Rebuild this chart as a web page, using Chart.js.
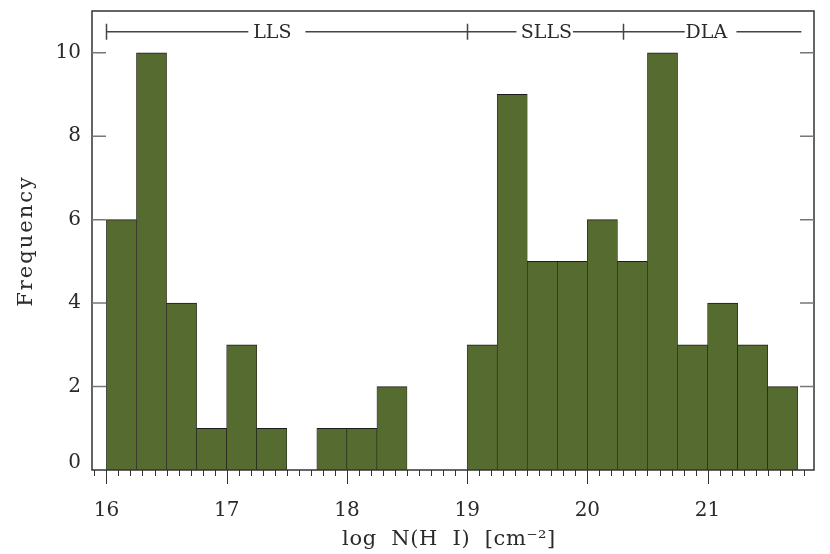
<!DOCTYPE html>
<html>
<head>
<meta charset="utf-8">
<script src="https://cdn.jsdelivr.net/npm/chart.js@4.4.1/dist/chart.umd.min.js"></script>
<style>
  html, body { margin: 0; padding: 0; background: #fff; }
  #wrap { width: 830px; height: 554px; }
</style>
</head>
<body>
<div id="wrap"><canvas id="hist"></canvas></div>
<script>
// histogram of log N(HI), bin width 0.25
const binLow = [16.0, 16.25, 16.5, 16.75, 17.0, 17.25, 17.5, 17.75, 18.0, 18.25, 18.5, 18.75,
                19.0, 19.25, 19.5, 19.75, 20.0, 20.25, 20.5, 20.75, 21.0, 21.25, 21.5];
const counts = [6, 10, 4, 1, 3, 1, 0, 1, 1, 2, 0, 0,
                3, 9, 5, 5, 6, 5, 10, 3, 4, 3, 2];
const binWidth = 0.25;
const xTickLabels = [16, 17, 18, 19, 20, 21];
const yTickLabels = [0, 2, 4, 6, 8, 10];
// class ranges on top
const classNames = ['LLS', 'SLLS', 'DLA'];
const classLabelAt = [17.38, 19.66, 20.99];
const classEdges = [16.0, 19.0, 20.3];

const FONT = '"DejaVu Serif", "Liberation Serif", serif';
const INK = '#2a2a2a';

let points = [];
for (let i = 0; i < binLow.length; i++) {
  points.push({ x: binLow[i] + binWidth / 2, y: counts[i] > 0 ? counts[i] : null });
}

const decor = {
  id: 'decor',
  afterDraw(chart) {
    const ctx = chart.ctx;
    const xs = chart.scales.x, ys = chart.scales.y;
    const a = chart.chartArea;
    ctx.save();

    // frame
    ctx.strokeStyle = '#333';
    ctx.lineWidth = 1.5;
    ctx.strokeRect(a.left, a.top, a.right - a.left, a.bottom - a.top);

    // x ticks, minor every 0.1, major at integers
    ctx.lineWidth = 1;
    ctx.strokeStyle = '#333';
    for (let k = 159; k <= 218; k++) {
      const v = k / 10;
      const px = Math.round(xs.getPixelForValue(v)) + 0.5;
      const len = (k % 10 === 0) ? 14 : 6;
      ctx.beginPath();
      ctx.moveTo(px, a.bottom);
      ctx.lineTo(px, a.bottom + len);
      ctx.stroke();
    }

    // y ticks, inward on both sides
    ctx.strokeStyle = '#777';
    ctx.lineWidth = 1.5;
    yTickLabels.forEach(v => {
      if (v === 0) return;
      const py = ys.getPixelForValue(v);
      ctx.beginPath();
      ctx.moveTo(a.left, py); ctx.lineTo(a.left + 14, py);
      ctx.moveTo(a.right, py); ctx.lineTo(a.right - 14, py);
      ctx.stroke();
    });

    // tick labels
    ctx.fillStyle = INK;
    ctx.font = '20px ' + FONT;
    ctx.textAlign = 'center';
    ctx.textBaseline = 'middle';
    xTickLabels.forEach(v => {
      ctx.fillText(String(v), xs.getPixelForValue(v), 511);
    });
    ctx.textAlign = 'right';
    yTickLabels.forEach(v => {
      let py = ys.getPixelForValue(v);
      if (v === 0) py -= 7;
      ctx.fillText(String(v), a.left - 11, py);
    });

    // axis titles
    ctx.textAlign = 'center';
    ctx.font = '21px ' + FONT;
    ctx.letterSpacing = '0.6px';
    ctx.fillText('log  N(H  I)  [cm\u207B\u00B2]', 449, 540);
    ctx.letterSpacing = '2px';
    ctx.save();
    ctx.translate(27, 241);
    ctx.rotate(-Math.PI / 2);
    ctx.fillText('Frequency', 0, 0);
    ctx.restore();
    ctx.letterSpacing = '0px';

    // class bracket along the top
    const by = ys.getPixelForValue(10.5);
    const segs = [[16.0, 17.18], [17.655, 19.41], [19.88, 20.81], [21.24, 21.78]];
    ctx.strokeStyle = '#444';
    ctx.lineWidth = 1.5;
    ctx.beginPath();
    segs.forEach(s => {
      ctx.moveTo(xs.getPixelForValue(s[0]), by);
      ctx.lineTo(xs.getPixelForValue(s[1]), by);
    });
    classEdges.forEach(v => {
      const px = Math.round(xs.getPixelForValue(v)) + 0.5;
      ctx.moveTo(px, by - 8);
      ctx.lineTo(px, by + 8);
    });
    ctx.stroke();
    ctx.fillStyle = INK;
    ctx.font = '19px ' + FONT;
    classNames.forEach((t, i) => {
      ctx.fillText(t, xs.getPixelForValue(classLabelAt[i]), by + 1);
    });

    ctx.restore();
  }
};

new Chart(document.getElementById('hist'), {
  type: 'bar',
  data: {
    datasets: [{
      data: points,
      backgroundColor: '#566b30',
      borderColor: '#1c1c1c',
      borderWidth: { top: 1, bottom: 0, left: 0.6, right: 0.6 },
      borderSkipped: false,
      barPercentage: 1.0,
      categoryPercentage: 1.0
    }]
  },
  options: {
    responsive: true,
    maintainAspectRatio: false,
    animation: false,
    layout: { padding: { left: 92, right: 16, top: 11, bottom: 84 } },
    plugins: { legend: { display: false }, tooltip: { enabled: false } },
    scales: {
      x: { type: 'linear', min: 15.88, max: 21.885, display: false, offset: false },
      y: { min: 0, max: 11, display: false }
    }
  },
  plugins: [decor]
});
</script>
</body>
</html>
